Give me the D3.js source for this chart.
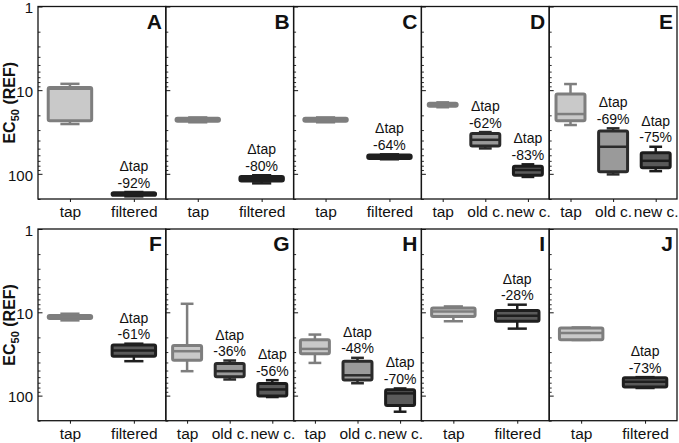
<!DOCTYPE html>
<html>
<head>
<meta charset="utf-8">
<script src="https://cdn.jsdelivr.net/npm/d3@7"></script>
<style>
  html, body { margin: 0; padding: 0; background: #fff; }
  svg { display: block; font-family: "Liberation Sans", Arial, sans-serif; }
</style>
</head>
<body>
<script>
// ---------------- DATA ----------------
const panelLetters = ["A", "B", "C", "D", "E", "F", "G", "H", "I", "J"];
const panelCategories = [
  ["tap", "filtered"],
  ["tap", "filtered"],
  ["tap", "filtered"],
  ["tap", "old c.", "new c."],
  ["tap", "old c.", "new c."],
  ["tap", "filtered"],
  ["tap", "old c.", "new c."],
  ["tap", "old c.", "new c."],
  ["tap", "filtered"],
  ["tap", "filtered"]
];
// box-plot statistics (EC50 REF), per panel, per category
const whiskerMin = [
  [8.4, 165], [21.2, 104], [21.2, 58.5], [14, 31.7, 77], [8.45, 28.6, 47.5],
  [10.4, 23.8], [7.9, 37.9, 65.3], [18.5, 35.2, 82], [8.5, 8.1], [15.2, 60]
];
const quartile1 = [
  [9.3, 168], [21.7, 108], [21.7, 59.7], [14.3, 32.9, 81], [11.1, 30.8, 56.1],
  [10.9, 24.6], [25.1, 41.2, 71.5], [21.3, 38.6, 85], [8.9, 9.5], [15.4, 61]
];
const medians = [
  [9.6, 174], [22.6, 116], [22.6, 62.5], [14.9, 39.2, 90], [19.3, 47.5, 69.9],
  [11.4, 28.8], [29.3, 50.9, 84.3], [27.5, 57, 94], [9.75, 11], [17.7, 68]
];
const quartile3 = [
  [23.2, 181], [23.6, 122], [23.6, 65.5], [15.6, 46.6, 104], [23.2, 94.6, 84.8],
  [11.9, 33.7], [37.6, 59.4, 101.4], [31.5, 65, 131], [11.2, 12.8], [21.3, 79]
];
const whiskerMax = [
  [25.4, 186], [24.2, 130], [24.2, 67], [16, 49.7, 109], [26.1, 101.6, 92.9],
  [12.5, 38.6], [50.9, 64, 104], [40.5, 71, 156], [12.8, 15.7], [21.5, 81]
];
const deltaLabels = [
  [null, "-92%"], [null, "-80%"], [null, "-64%"], [null, "-62%", "-83%"], [null, "-69%", "-75%"],
  [null, "-61%"], [null, "-36%", "-56%"], [null, "-48%", "-70%"], [null, "-28%"], [null, "-73%"]
];
const yMajorTicks = [1, 10, 100];
const yTickLabels = ["1", "10", "100"];
const yMinorTicks = [2, 3, 4, 5, 6, 7, 8, 9, 20, 30, 40, 50, 60, 70, 80, 90, 200];
const yDomain = [1, 200];
const yAxisTitle = ["EC", "50", " (REF)"];
const deltaTitle = "\u0394tap";

// ---------------- STYLE ----------------
const catStyle = {
  "tap":      { fill: "#c9c9c9", stroke: "#7e7e7e" },
  "old c.":   { fill: "#9a9a9a", stroke: "#2b2b2b" },
  "new c.":   { fill: "#5a5a5a", stroke: "#1c1c1c" },
  "filtered": { fill: "#5a5a5a", stroke: "#1f1f1f" }
};

const W = 679, H = 443;
const left = 38, right = 677;
const pw = (right - left) / 5;
const rows = [{ top: 6.5, bottom: 199 }, { top: 229, bottom: 420.7 }];
const ink = "#151515";

const svg = d3.select("body").append("svg").attr("width", W).attr("height", H);

panelLetters.forEach((letter, i) => {
  const row = rows[Math.floor(i / 5)];
  const col = i % 5;
  const x0 = left + col * pw;
  const cats = panelCategories[i];

  const y = d3.scaleLog().domain(yDomain).range([row.top, row.bottom]);
  const x = d3.scalePoint().domain(cats).range([x0, x0 + pw]).padding(0.5);
  const step = x.step();

  const g = svg.append("g");

  // frame
  g.append("rect")
    .attr("x", x0).attr("y", row.top)
    .attr("width", pw).attr("height", row.bottom - row.top)
    .attr("fill", "none").attr("stroke", ink).attr("stroke-width", 1.3);

  // x axis
  const xa = g.append("g")
    .attr("transform", `translate(0,${row.bottom})`)
    .call(d3.axisBottom(x).tickSize(3).tickSizeOuter(0).tickPadding(4));
  xa.select(".domain").remove();
  xa.selectAll("line").attr("stroke", ink).attr("stroke-width", 1);
  xa.selectAll("text").attr("font-size", "15.5px").attr("fill", "#111")
    .attr("font-family", "'Liberation Sans', Arial, sans-serif");

  // y ticks (inward)
  const ymin = g.append("g").attr("transform", `translate(${x0},0)`)
    .call(d3.axisRight(y).tickValues(yMinorTicks).tickSize(2.5).tickFormat(""));
  ymin.select(".domain").remove();
  ymin.selectAll("line").attr("stroke", ink).attr("stroke-width", 0.9);
  const ymaj = g.append("g").attr("transform", `translate(${x0},0)`)
    .call(d3.axisRight(y).tickValues(yMajorTicks).tickSize(4.5).tickFormat(""));
  ymaj.select(".domain").remove();
  ymaj.selectAll("line").attr("stroke", ink).attr("stroke-width", 1);

  if (col === 0) {
    const yl = g.append("g").attr("transform", `translate(${x0},0)`)
      .call(d3.axisLeft(y).tickValues(yMajorTicks).tickSize(0).tickPadding(5)
        .tickFormat((d, k) => yTickLabels[k]));
    yl.select(".domain").remove();
    yl.selectAll("text").attr("font-size", "15px").attr("fill", "#111")
      .attr("dy", "0.42em")
      .attr("font-family", "'Liberation Sans', Arial, sans-serif");

    const cy = (row.top + row.bottom) / 2;
    const t = svg.append("text")
      .attr("transform", `translate(15,${cy}) rotate(-90)`)
      .attr("text-anchor", "middle")
      .attr("font-size", "16px").attr("font-weight", "bold").attr("fill", "#111");
    t.append("tspan").text(yAxisTitle[0]);
    t.append("tspan").text(yAxisTitle[1]).attr("font-size", "11px").attr("dy", 4);
    t.append("tspan").text(yAxisTitle[2]).attr("dy", -4);
  }

  // panel letter
  g.append("text")
    .attr("x", x0 + pw - 4).attr("y", row.top + 22)
    .attr("text-anchor", "end")
    .attr("font-size", "21px").attr("font-weight", "bold").attr("fill", "#111")
    .text(letter);

  // boxes
  cats.forEach((c, j) => {
    const st = catStyle[c];
    const cx = x(c);
    const bw = 0.68 * step;
    const cw = 0.3 * step;
    const bg = g.append("g");
    // whisker
    bg.append("line")
      .attr("x1", cx).attr("x2", cx)
      .attr("y1", y(whiskerMin[i][j])).attr("y2", y(whiskerMax[i][j]))
      .attr("stroke", st.stroke).attr("stroke-width", 2.5);
    [whiskerMin[i][j], whiskerMax[i][j]].forEach(v => {
      bg.append("line")
        .attr("x1", cx - cw / 2).attr("x2", cx + cw / 2)
        .attr("y1", y(v)).attr("y2", y(v))
        .attr("stroke", st.stroke).attr("stroke-width", 2.5);
    });
    // box
    bg.append("rect")
      .attr("x", cx - bw / 2).attr("width", bw)
      .attr("y", y(quartile1[i][j]))
      .attr("height", y(quartile3[i][j]) - y(quartile1[i][j]))
      .attr("rx", 1.5)
      .attr("fill", st.fill).attr("stroke", st.stroke)
      .attr("stroke-width", 3).attr("stroke-linejoin", "round");
    // median
    bg.append("line")
      .attr("x1", cx - bw / 2).attr("x2", cx + bw / 2)
      .attr("y1", y(medians[i][j])).attr("y2", y(medians[i][j]))
      .attr("stroke", st.stroke).attr("stroke-width", 2.5);

    // delta label
    const lab = deltaLabels[i][j];
    if (lab) {
      const by = y(whiskerMin[i][j]) - 4.5;
      g.append("text").attr("x", cx).attr("y", by - 16.5)
        .attr("text-anchor", "middle").attr("font-size", "14px").attr("fill", "#111")
        .text(deltaTitle);
      g.append("text").attr("x", cx).attr("y", by)
        .attr("text-anchor", "middle").attr("font-size", "14px").attr("fill", "#111")
        .text(lab);
    }
  });
});
</script>
</body>
</html>
